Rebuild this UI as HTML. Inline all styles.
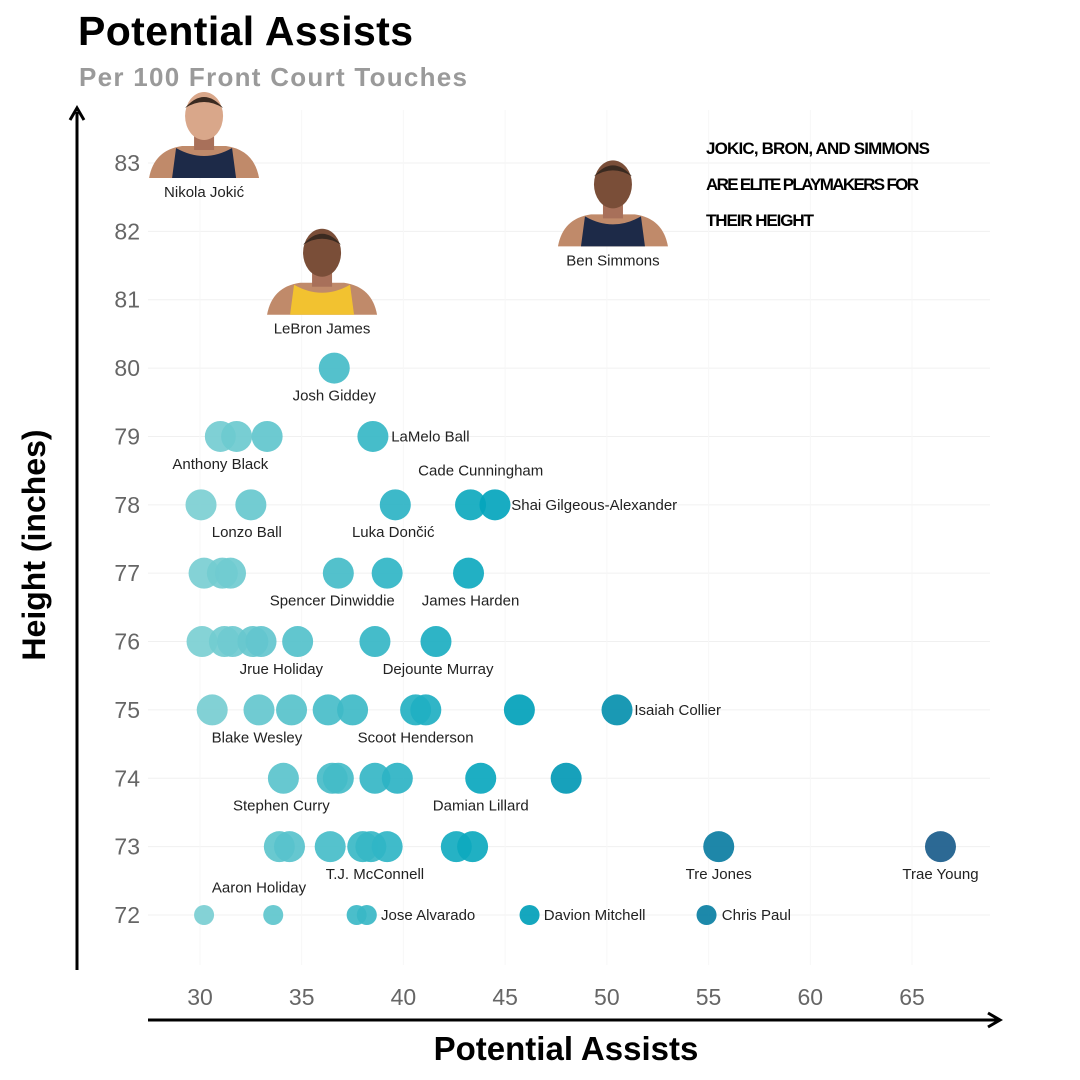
<!DOCTYPE html>
<html><head><meta charset="utf-8">
<style>
body{margin:0;background:#fff;}
svg{display:block;font-family:"Liberation Sans",sans-serif;}
</style></head>
<body>
<svg id="chart" width="1080" height="1080" viewBox="0 0 1080 1080">
  <text x="78" y="45" font-size="41" font-weight="bold" fill="#000" textLength="335">Potential Assists</text>
  <text x="79" y="86" font-size="26" font-weight="bold" fill="#9a9a9a" textLength="388">Per 100 Front Court Touches</text>
  <g id="grid"></g>
  <line x1="77" y1="970" x2="77" y2="112" stroke="#000" stroke-width="3"/>
  <path d="M70,120 L77,108 L84,120" fill="none" stroke="#000" stroke-width="3"/>
  <line x1="148" y1="1020" x2="998" y2="1020" stroke="#000" stroke-width="3"/>
  <path d="M988,1013 L1000,1020 L988,1027" fill="none" stroke="#000" stroke-width="3"/>
  <text transform="translate(45,545) rotate(-90)" text-anchor="middle" font-size="32" font-weight="bold">Height (inches)</text>
  <text x="566" y="1060" text-anchor="middle" font-size="33" font-weight="bold">Potential Assists</text>
  <g font-size="17" font-weight="bold" fill="#000">
    <text x="706" y="154" textLength="224">JOKIC, BRON, AND SIMMONS</text>
    <text x="706" y="190" textLength="213">ARE ELITE PLAYMAKERS FOR</text>
    <text x="706" y="226" textLength="108">THEIR HEIGHT</text>
  </g>
  <g id="ticks"></g>
  <g id="photos"></g>
  <g id="points"></g>
  <g id="labels" font-size="15" fill="#222"></g>
</svg>
<script>
const xTicks = [30,35,40,45,50,55,60,65];
const yTicks = [72,73,74,75,76,77,78,79,80,81,82,83];
const heights = [80, 79,79,79,79, 78,78,78,78,78, 77,77,77,77,77,77, 76,76,76,76,76,76,76,76,
 75,75,75,75,75,75,75,75,75, 74,74,74,74,74,74,74, 73,73,73,73,73,73,73,73,73,73, 72,72,72,72,72,72];
const assists = [36.6, 31.0,31.8,33.3,38.5, 30.05,32.5,39.6,43.3,44.5, 30.2,31.1,31.5,36.8,39.2,43.2,
 30.1,31.2,31.6,32.6,33.0,34.8,38.6,41.6, 30.6,32.9,34.5,36.3,37.5,40.6,41.1,45.7,50.5,
 34.1,36.5,36.8,38.6,39.7,43.8,48.0, 33.9,34.4,36.4,38.0,38.4,39.2,42.6,43.4,55.5,66.4,
 30.2,33.6,37.7,38.2,46.2,54.9];
const labelNames = ["Josh Giddey","LaMelo Ball","Anthony Black","Cade Cunningham","Shai Gilgeous-Alexander","Lonzo Ball","Luka Dončić",
 "Spencer Dinwiddie","James Harden","Jrue Holiday","Dejounte Murray","Isaiah Collier","Blake Wesley","Scoot Henderson",
 "Stephen Curry","Damian Lillard","Tre Jones","Trae Young","T.J. McConnell","Aaron Holiday","Jose Alvarado","Davion Mitchell","Chris Paul"];
const labelX = [36.6,39.4,31.0,43.8,45.3,32.3,39.5,36.5,43.3,34.0,41.7,51.35,32.8,40.6,34.0,43.8,55.5,66.4,38.6,32.9,38.9,46.9,55.65];
const labelY = [79.6,79.0,78.6,78.5,78.0,77.6,77.6,76.6,76.6,75.6,75.6,75.0,74.6,74.6,73.6,73.6,72.6,72.6,72.6,72.4,72.0,72.0,72.0];
const labelAnchor = ["middle","start","middle","middle","start","middle","middle","middle","middle","middle","middle","start","middle","middle",
 "middle","middle","middle","middle","middle","middle","start","start","start"];
const photoNames = ["Nikola Jokić","Ben Simmons","LeBron James"];
const photoX = [30.2,50.3,36.0];
const photoY = [83.0,82.0,81.0];

const X = v => 200 + (v-30)*(712/35);
const Y = v => 163 + (83-v)*(752/11);
const NS="http://www.w3.org/2000/svg";
function mk(tag, attrs, parent){const e=document.createElementNS(NS,tag);for(const k in attrs)e.setAttribute(k,attrs[k]);parent.appendChild(e);return e;}
const grid=document.getElementById('grid'), ticks=document.getElementById('ticks');
yTicks.forEach(t=>{
  const l=mk('line',{x1:148,x2:990,y1:Y(t),y2:Y(t),stroke:'#f0f0f0','stroke-width':1},grid);
  
  
  const tx=mk('text',{x:140,y:Y(t)+8,'text-anchor':'end','font-size':23,fill:'#666'},ticks);
  tx.textContent=t;
  
  
});
xTicks.forEach(t=>{
  const l=mk('line',{x1:X(t),x2:X(t),y1:110,y2:965,stroke:'#f7f7f7','stroke-width':1},grid);
  
  
  const tx=mk('text',{x:X(t),y:1005,'text-anchor':'middle','font-size':23,fill:'#666'},ticks);
  tx.textContent=t;
  
  
});
const stops=[[30,[124,207,210]],[45,[0,164,188]],[55,[10,127,163]],[67,[27,90,138]]];
function col(v){for(let i=0;i<stops.length-1;i++){const a=stops[i],b=stops[i+1];if(v<=b[0]){const f=Math.max(0,(v-a[0])/(b[0]-a[0]));return 'rgb('+a[1].map((c,j)=>Math.round(c+(b[1][j]-c)*f)).join(',')+')';}}return 'rgb(27,90,138)';}
const pts=document.getElementById('points');
assists.forEach((a,i)=>{
  const c=mk('circle',{cx:X(a),cy:Y(heights[i]),r:heights[i]===72?10:15.5,fill:col(a),'fill-opacity':0.92},pts);
  
  
});
const lab=document.getElementById('labels');
labelNames.forEach((n,i)=>{
  const t=mk('text',{x:X(labelX[i]),y:Y(labelY[i])+5,'text-anchor':labelAnchor[i]},lab);
  t.textContent=n;
  
  
});
const ph=document.getElementById('photos');
photoNames.forEach((n,i)=>{
  const cx=X(photoX[i]), by=Y(photoY[i])+15;
  const g=mk('g',{},ph);
  
  
  const jersey = i===2 ? '#f2c230' : '#1d2a48';
  mk('path',{d:`M${cx-55},${by} Q${cx-50},${by-28} ${cx-22},${by-32} L${cx+22},${by-32} Q${cx+50},${by-28} ${cx+55},${by} Z`,fill:'#c08a6a'},g);
  mk('path',{d:`M${cx-32},${by} L${cx-28},${by-30} Q${cx},${by-14} ${cx+28},${by-30} L${cx+32},${by} Z`,fill:jersey},g);
  mk('rect',{x:cx-10,y:by-48,width:20,height:20,fill:'#a8705a'},g);
  mk('ellipse',{cx:cx,cy:by-62,rx:19,ry:24,fill:i===0?'#d9a78a':'#7a4e38'},g);
  mk('path',{d:`M${cx-19},${by-70} Q${cx},${by-92} ${cx+19},${by-70} Q${cx},${by-82} ${cx-19},${by-70}Z`,fill:'#3a2a20'},g);
  const t=mk('text',{x:cx,y:by+19,'text-anchor':'middle','font-size':15,fill:'#222'},g);
  t.textContent=n;
  
  
});
</script>
</body></html>
